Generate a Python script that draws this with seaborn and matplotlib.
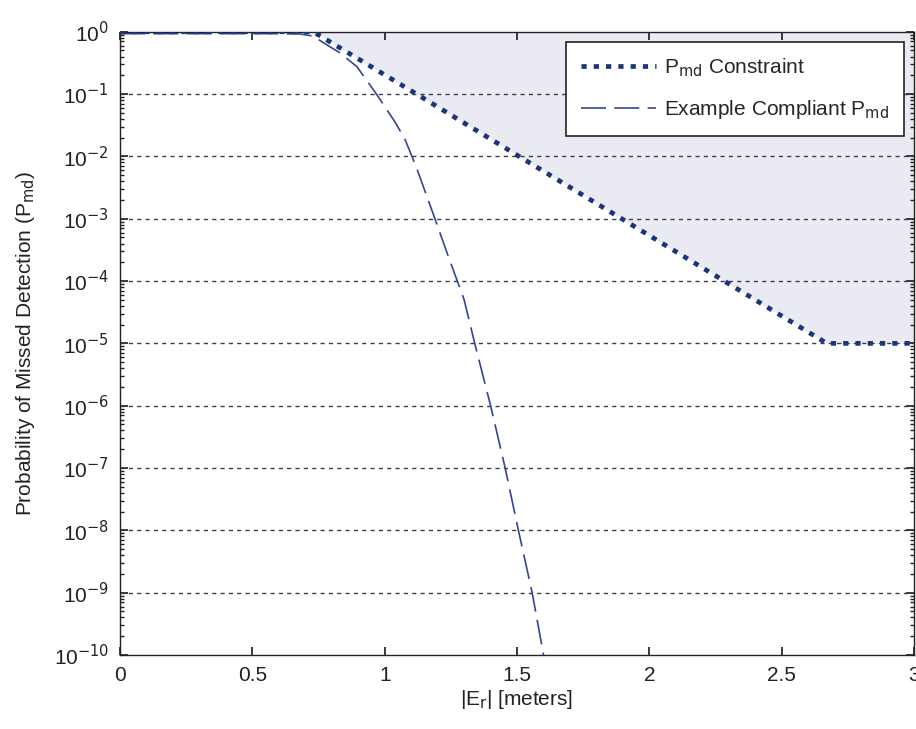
import numpy as np
import pandas as pd
import matplotlib
matplotlib.use("Agg")
import matplotlib.pyplot as plt
import matplotlib.ticker as mticker
import seaborn as sns

# P_md constraint (breakpoints)
constraint_x = [0.0, 0.73, 1.12, 2.67, 3.0]
constraint_y = [1e0, 1e0, 1e-1, 1e-5, 1e-5]

# example compliant P_md curve
compliant_x = [0.0, 0.60, 0.68, 0.73, 0.77, 0.83, 0.895, 0.93, 0.97, 1.04, 1.077,
               1.12, 1.18, 1.24, 1.30, 1.34, 1.40, 1.455, 1.505, 1.557, 1.60]
compliant_y = [0.93, 0.93, 0.92, 0.85, 0.66, 0.46, 0.275, 0.17, 0.098, 0.035, 0.0186,
               6.6e-3, 1.3e-3, 2.5e-4, 5e-5, 1e-5, 1e-6, 1e-7, 1e-8, 1e-9, 1e-10]

x_ticks = [0, 0.5, 1, 1.5, 2, 2.5, 3]
y_decades = list(range(-10, 1))

FONT = "Liberation Sans Narrow"

sns.set_theme(style="ticks")
plt.rcParams["font.family"] = [FONT, "Liberation Sans", "DejaVu Sans"]
plt.rcParams["mathtext.fontset"] = "custom"
plt.rcParams["mathtext.rm"] = FONT
plt.rcParams["mathtext.it"] = FONT + ":italic"

navy = "#1c3578"
line_blue = "#34449a"
ink = "#222222"

fig = plt.figure(figsize=(9.16, 7.29), dpi=100)
ax = fig.add_axes([0.131, 0.1015, 0.867, 0.855])

# shaded non-compliant region
ax.fill_between(constraint_x, constraint_y, 1e0, color="#eaeaf3", lw=0, zorder=0)

for d in y_decades[1:-1]:
    ax.axhline(10.0 ** d, color="#3a3f46", lw=1.0, dashes=(3, 3), zorder=1)

df_c = pd.DataFrame({"x": constraint_x, "y": constraint_y})
df_e = pd.DataFrame({"x": compliant_x, "y": compliant_y})
sns.lineplot(data=df_c, x="x", y="y", ax=ax, color=navy, lw=3.4,
             label=r"P$_{\rm md}$ Constraint", zorder=3, sort=False)
sns.lineplot(data=df_e, x="x", y="y", ax=ax, color=line_blue, lw=1.2,
             label=r"Example Compliant P$_{\rm md}$", zorder=2, sort=False)
ax.lines[-2].set_dashes((1.1, 1.5))
ax.lines[-1].set_dashes((15, 5))

ax.set_yscale("log")
ax.set_xlim(0, 3)
ax.set_ylim(1e-10, 1e0)
ax.set_xticks(x_ticks)
ax.xaxis.set_major_formatter(mticker.FuncFormatter(lambda v, p: f"{v:g}"))
ax.set_yticks([10.0 ** d for d in y_decades])
ax.yaxis.set_major_formatter(mticker.FuncFormatter(lambda v, p: r"10$^{%d}$" % round(np.log10(v))))
ax.yaxis.set_minor_locator(mticker.LogLocator(base=10, subs=np.arange(2, 10), numticks=20))
ax.yaxis.set_minor_formatter(mticker.NullFormatter())
ax.tick_params(axis="both", which="both", direction="in", top=True, right=True,
               labelsize=15, colors=ink)
ax.tick_params(which="major", length=6)
ax.tick_params(which="minor", length=3)
ax.tick_params(axis="y", pad=8)
ax.tick_params(axis="x", pad=8)
for s in ax.spines.values():
    s.set_color(ink)
    s.set_linewidth(1.0)

ax.set_xlabel(r"|E$_{\rm r}$| [meters]", fontsize=15, color=ink, labelpad=2)
ax.set_ylabel(r"Probability of Missed Detection (P$_{\rm md}$)", fontsize=15,
              color=ink, labelpad=12)

leg = ax.legend(loc="upper right", fontsize=15, frameon=True, fancybox=False,
                edgecolor=ink, framealpha=1, handlelength=3.6,
                borderaxespad=0.5, labelspacing=0.9, borderpad=0.7,
                handletextpad=0.4)
leg.get_frame().set_linewidth(1.2)

fig.savefig("out.png", dpi=100)
